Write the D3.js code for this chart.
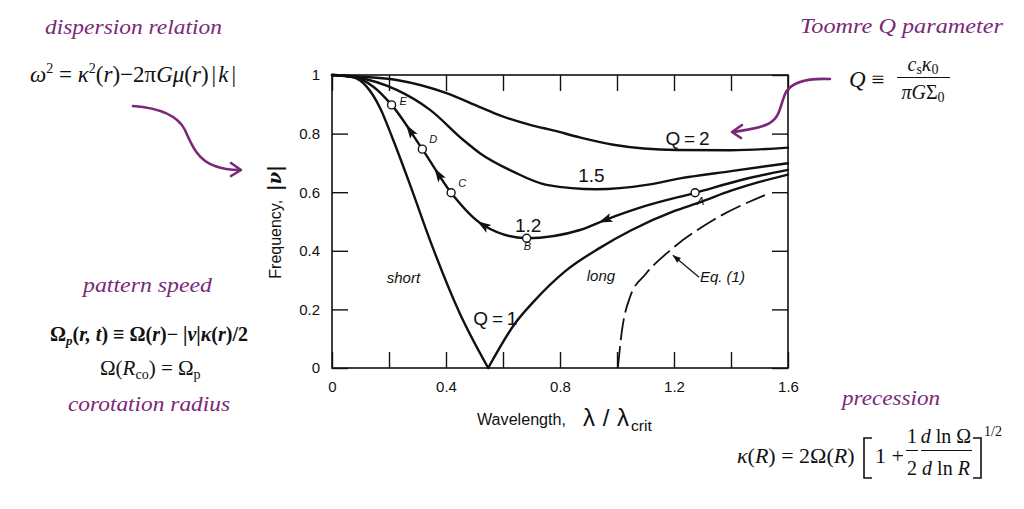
<!DOCTYPE html>
<html>
<head>
<meta charset="utf-8">
<script src="https://cdn.jsdelivr.net/npm/d3@7"></script>
<style>
  body { margin: 0; background: #fff; }
  svg { display: block; }
  .tick text { font-family: "Liberation Sans", Arial, sans-serif; font-size: 15px; fill: #111; }
  .serif { font-family: "Liberation Serif", "Times New Roman", serif; fill: #111; }
  .purple { font-family: "Liberation Serif", serif; font-style: italic; fill: #7a2878; }
</style>
</head>
<body>
<svg id="chart" width="1024" height="509"></svg>
<script>
// ---- data (x = lambda/lambda_crit, y = |nu|) ----
const xTicks = [0, 0.2, 0.4, 0.6, 0.8, 1.0, 1.2, 1.4, 1.6];
const xTickLabels = ["0", "", "0.4", "", "0.8", "", "1.2", "", "1.6"];
const yTicks = [0, 0.2, 0.4, 0.6, 0.8, 1.0];
const yTickLabels = ["0", "0.2", "0.4", "0.6", "0.8", "1"];

const q1Short = [[0, 1], [0.075, 0.992], [0.12, 0.962], [0.17, 0.885], [0.21, 0.79], [0.274, 0.625],
  [0.35, 0.42], [0.449, 0.185], [0.548, 0]];
const q1Long = [[0.548, 0], [0.642, 0.152], [0.706, 0.225], [0.823, 0.334], [0.94, 0.41], [1.05, 0.47],
  [1.2, 0.535], [1.29, 0.565], [1.4, 0.605], [1.5, 0.635], [1.6, 0.66]];
const q12 = [[0, 1], [0.075, 0.993], [0.145, 0.96], [0.209, 0.898], [0.317, 0.747], [0.418, 0.598],
  [0.53, 0.488], [0.683, 0.443], [0.87, 0.471], [0.958, 0.505], [1.1, 0.553], [1.274, 0.598],
  [1.45, 0.645], [1.6, 0.676]];
const q15 = [[0, 1], [0.075, 0.994], [0.227, 0.949], [0.344, 0.881], [0.461, 0.778], [0.519, 0.733],
  [0.636, 0.67], [0.753, 0.625], [0.929, 0.61], [1.104, 0.625], [1.221, 0.647], [1.4, 0.672], [1.6, 0.699]];
const q2 = [[0, 1], [0.075, 0.996], [0.227, 0.983], [0.402, 0.938], [0.519, 0.89], [0.589, 0.862],
  [0.695, 0.83], [0.78, 0.81], [0.87, 0.787], [0.987, 0.762], [1.209, 0.744], [1.4, 0.743], [1.6, 0.752]];
const eq1 = [[1.003, 0], [1.016, 0.118], [1.046, 0.243], [1.1, 0.32], [1.174, 0.391], [1.338, 0.505], [1.519, 0.59]];

// marked points and flow arrows along the Q = 1.2 curve
const pointNames = ["A", "B", "C", "D", "E"];
const pointX = [1.274, 0.683, 0.418, 0.317, 0.209];
const arrowX = [0.958, 0.53, 0.373, 0.274];

// ---- layout ----
const svg = d3.select("#chart");
const x = d3.scaleLinear().domain([0, 1.6]).range([332, 788]);
const y = d3.scaleLinear().domain([0, 1]).range([368, 75]);
const tickLen = 16;
const sans = "Liberation Sans, Arial, sans-serif";

const axisG = svg.append("g");
axisG.append("g").attr("transform", `translate(0,${y(0)})`)
  .call(d3.axisBottom(x).tickValues(xTicks).tickSizeInner(-tickLen).tickSizeOuter(0).tickPadding(13)
    .tickFormat((d, i) => xTickLabels[i]));
axisG.append("g").attr("transform", `translate(0,${y(1)})`)
  .call(d3.axisTop(x).tickValues(xTicks).tickSizeInner(-tickLen).tickSizeOuter(0).tickFormat(""));
axisG.append("g").attr("transform", `translate(${x(0)},0)`)
  .call(d3.axisLeft(y).tickValues(yTicks).tickSizeInner(-tickLen).tickSizeOuter(0).tickPadding(12)
    .tickFormat((d, i) => yTickLabels[i]));
axisG.append("g").attr("transform", `translate(${x(1.6)},0)`)
  .call(d3.axisRight(y).tickValues(yTicks).tickSizeInner(-tickLen).tickSizeOuter(0).tickFormat(""));
axisG.selectAll(".domain").remove();
axisG.selectAll(".tick line").attr("stroke", "#111").attr("stroke-width", 1.4);

svg.append("rect")
  .attr("x", x(0)).attr("y", y(1))
  .attr("width", x(1.6) - x(0)).attr("height", y(0) - y(1))
  .attr("fill", "none").attr("stroke", "#111").attr("stroke-width", 1.6);

// axis titles
svg.append("text").attr("x", 477).attr("y", 425).attr("font-family", sans).attr("font-size", 16)
  .attr("textLength", 89).attr("lengthAdjust", "spacingAndGlyphs").attr("fill", "#111").text("Wavelength,");
svg.append("text").attr("x", 583).attr("y", 426).attr("font-family", sans).attr("font-size", 24)
  .attr("textLength", 46).attr("lengthAdjust", "spacing").attr("fill", "#111").text("λ/λ");
svg.append("text").attr("x", 631).attr("y", 431).attr("font-family", sans).attr("font-size", 14)
  .attr("textLength", 21).attr("lengthAdjust", "spacingAndGlyphs").attr("fill", "#111").text("crit");

const yTitle = svg.append("text").attr("transform", "translate(281,222) rotate(-90)")
  .attr("text-anchor", "middle").attr("font-family", sans).attr("fill", "#111");
yTitle.append("tspan").attr("font-size", 16).text("Frequency,");
yTitle.append("tspan").attr("font-size", 18).attr("dx", 9).attr("font-weight", "bold")
  .attr("font-family", "DejaVu Serif, serif").attr("font-style", "italic").text("|ν|");

// ---- curves ----
const line = d3.line().x(d => x(d[0])).y(d => y(d[1])).curve(d3.curveMonotoneX);
const curveG = svg.append("g").attr("fill", "none").attr("stroke", "#111").attr("stroke-width", 2.4)
  .attr("stroke-linecap", "round");
[q2, q15, q1Short, q1Long].forEach(s => curveG.append("path").attr("d", line(s)));
const q12Path = curveG.append("path").attr("d", line(q12)).node();
curveG.append("path").attr("d", line(eq1)).attr("stroke-width", 1.8).attr("stroke-dasharray", "22,6")
  .attr("stroke-linecap", "butt");

// find length along Q=1.2 path for a given x value
const total = q12Path.getTotalLength();
function lengthAtX(xv) {
  const target = x(xv);
  let lo = 0, hi = total;
  for (let i = 0; i < 40; i++) {
    const mid = (lo + hi) / 2;
    if (q12Path.getPointAtLength(mid).x < target) lo = mid; else hi = mid;
  }
  return (lo + hi) / 2;
}

// flow arrows (pointing toward shorter wavelength)
arrowX.forEach(xv => {
  const L = lengthAtX(xv);
  const p1 = q12Path.getPointAtLength(L);
  const p0 = q12Path.getPointAtLength(L - 4);
  const ang = Math.atan2(p0.y - p1.y, p0.x - p1.x) * 180 / Math.PI;
  svg.append("path").attr("d", "M7,0 L-7,-4.5 L-4,0 L-7,4.5 Z").attr("fill", "#111")
    .attr("transform", `translate(${p1.x},${p1.y}) rotate(${ang})`);
});

// open circles with letters
const labelOffset = { A: [2, 12], B: [-3, 12], C: [7, -6], D: [7, -6], E: [8, 0] };
pointNames.forEach((name, i) => {
  const p = q12Path.getPointAtLength(lengthAtX(pointX[i]));
  svg.append("circle").attr("cx", p.x).attr("cy", p.y).attr("r", 4)
    .attr("fill", "#fff").attr("stroke", "#111").attr("stroke-width", 1.4);
  svg.append("text").attr("x", p.x + labelOffset[name][0]).attr("y", p.y + labelOffset[name][1])
    .attr("font-family", sans).attr("font-style", "italic")
    .attr("font-size", 11).attr("fill", "#111").text(name);
});

// curve labels
const curveLabels = [
  { t: "Q\u2009=\u20092", x: 1.17, y: 0.761, size: 19 },
  { t: "1.5", x: 0.864, y: 0.635, size: 19 },
  { t: "1.2", x: 0.642, y: 0.465, size: 19 },
  { t: "Q\u2009=\u20091", x: 0.496, y: 0.147, size: 19 },
  { t: "short", x: 0.192, y: 0.29, size: 15, italic: true },
  { t: "long", x: 0.894, y: 0.297, size: 15, italic: true },
  { t: "Eq. (1)", x: 1.291, y: 0.294, size: 15, italic: true }
];
curveLabels.forEach(l => {
  svg.append("text").attr("x", x(l.x)).attr("y", y(l.y)).attr("font-family", sans)
    .attr("font-size", l.size).attr("font-style", l.italic ? "italic" : "normal")
    .attr("fill", "#111").text(l.t);
});
// leader from the Eq. (1) label to the dashed curve
const lead = [[1.288, 0.31], [1.196, 0.385]];
svg.append("line").attr("x1", x(lead[0][0])).attr("y1", y(lead[0][1]))
  .attr("x2", x(lead[1][0])).attr("y2", y(lead[1][1])).attr("stroke", "#111").attr("stroke-width", 1.2);
{
  const ang = Math.atan2(y(lead[1][1]) - y(lead[0][1]), x(lead[1][0]) - x(lead[0][0])) * 180 / Math.PI;
  svg.append("path").attr("d", "M0,0 L-8,-3 L-8,3 Z").attr("fill", "#111")
    .attr("transform", `translate(${x(lead[1][0])},${y(lead[1][1])}) rotate(${ang})`);
}

// ---- purple annotations ----
const purple = [
  { t: "dispersion relation", x: 45, y: 34, w: 177 },
  { t: "Toomre Q parameter", x: 800, y: 33, w: 203 },
  { t: "pattern speed", x: 83, y: 292, w: 129 },
  { t: "corotation radius", x: 68, y: 411, w: 162 },
  { t: "precession", x: 842, y: 405, w: 98 }
];
purple.forEach(p => {
  svg.append("text").attr("class", "purple").attr("x", p.x).attr("y", p.y)
    .attr("font-size", 21).attr("textLength", p.w).attr("lengthAdjust", "spacingAndGlyphs").text(p.t);
});

const arrowStyle = g => g.attr("fill", "none").attr("stroke", "#7a2878").attr("stroke-width", 2.6)
  .attr("stroke-linecap", "round").attr("stroke-linejoin", "round");
svg.append("path").call(arrowStyle)
  .attr("d", "M133,106 C160,108 178,116 185,130 C192,146 198,160 215,166 C225,170 233,170 240,170");
svg.append("path").call(arrowStyle).attr("d", "M231,163 L241,170 L231,176");
svg.append("path").call(arrowStyle)
  .attr("d", "M830,79 C808,78 792,82 786,92 C780,104 781,118 768,124 C758,129 745,130 733,132");
svg.append("path").call(arrowStyle).attr("d", "M742,125 L732,132 L741,138");

// ---- formulas ----
function formula(px, py, size, parts, opts = {}) {
  const t = svg.append("text").attr("class", "serif").attr("x", px).attr("y", py).attr("font-size", size);
  if (opts.bold) t.attr("font-weight", "bold");
  if (opts.anchor) t.attr("text-anchor", opts.anchor);
  parts.forEach(p => {
    const s = t.append("tspan").text(p.s);
    if (p.i) s.attr("font-style", "italic");
    if (p.dy) s.attr("dy", p.dy);
    if (p.fs) s.attr("font-size", p.fs);
    if (p.dx) s.attr("dx", p.dx);
  });
  return t;
}

// dispersion relation
formula(30, 82, 23, [
  { s: "ω", i: 1 }, { s: "2", dy: -9, fs: 14 }, { s: " = ", dy: 9 }, { s: "κ", i: 1 },
  { s: "2", dy: -9, fs: 14 }, { s: "(", dy: 9 }, { s: "r", i: 1 }, { s: ")−2π" }, { s: "Gμ", i: 1 },
  { s: "(" }, { s: "r", i: 1 }, { s: ")" }, { s: "|", dx: 3 }, { s: "k", i: 1, dx: 2 }, { s: "|", dx: 3 }
]);

// Toomre Q
formula(849, 87, 23, [{ s: "Q", i: 1 }, { s: " ≡" }]);
formula(923, 71, 20, [{ s: "c", i: 1 }, { s: "s", fs: 14, dy: 3 }, { s: "κ", i: 1, dy: -3 }, { s: "0", fs: 14, dy: 3 }],
  { anchor: "middle" });
svg.append("line").attr("x1", 897).attr("x2", 950).attr("y1", 77.5).attr("y2", 77.5)
  .attr("stroke", "#111").attr("stroke-width", 1);
formula(923, 99, 20, [{ s: "πG", i: 1 }, { s: "Σ" }, { s: "0", fs: 14, dy: 3 }], { anchor: "middle" });

// pattern speed
formula(50, 341, 20, [
  { s: "Ω" }, { s: "p", i: 1, fs: 13, dy: 4 }, { s: "(", dy: -4 }, { s: "r, t", i: 1 }, { s: ") ≡ Ω(" },
  { s: "r", i: 1 }, { s: ")− |" }, { s: "ν", i: 1 }, { s: "|" }, { s: "κ", i: 1 }, { s: "(" }, { s: "r", i: 1 },
  { s: ")/2" }
], { bold: true });
formula(100, 375, 21, [
  { s: "Ω(" }, { s: "R", i: 1 }, { s: "co", fs: 14, dy: 4 }, { s: ") = Ω", dy: -4 }, { s: "p", fs: 14, dy: 4 }
]);

// epicyclic frequency
formula(737, 463, 22, [{ s: "κ", i: 1 }, { s: "(" }, { s: "R", i: 1 }, { s: ") = 2Ω(" }, { s: "R", i: 1 }, { s: ")" }]);
svg.append("path").attr("d", "M872,438 H864 V478 H872 M973,438 H981 V478 H973")
  .attr("fill", "none").attr("stroke", "#111").attr("stroke-width", 1.6);
formula(875, 463, 22, [{ s: "1 +" }]);
formula(912, 443, 20, [{ s: "1" }], { anchor: "middle" });
svg.append("line").attr("x1", 906).attr("x2", 918).attr("y1", 450.5).attr("y2", 450.5)
  .attr("stroke", "#111").attr("stroke-width", 1);
formula(912, 475, 20, [{ s: "2" }], { anchor: "middle" });
formula(946, 443, 20, [{ s: "d", i: 1 }, { s: " ln Ω" }], { anchor: "middle" });
svg.append("line").attr("x1", 921).attr("x2", 972).attr("y1", 450.5).attr("y2", 450.5)
  .attr("stroke", "#111").attr("stroke-width", 1);
formula(946, 475, 20, [{ s: "d", i: 1 }, { s: " ln " }, { s: "R", i: 1 }], { anchor: "middle" });
formula(984, 436, 14, [{ s: "1/2" }]);
</script>
</body>
</html>
